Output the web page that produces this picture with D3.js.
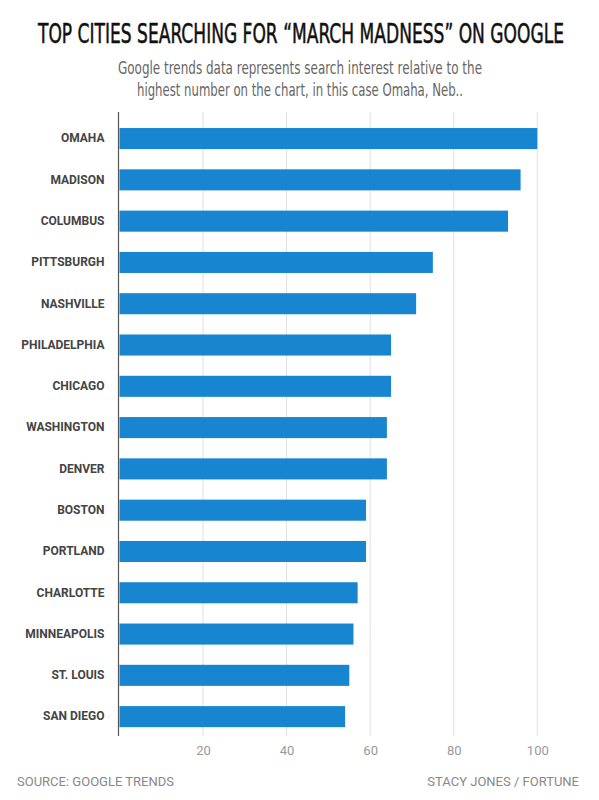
<!DOCTYPE html>
<meta charset="utf-8">
<script src="https://d3js.org/d3.v7.min.js"></script>
<style>
  body { margin: 0; background: #fff; }
  text { font-family: "Liberation Sans Narrow", "DejaVu Sans Condensed", sans-serif; }
</style>
<body>
<div id="chart"></div>
<script>

var cities = ["OMAHA", "MADISON", "COLUMBUS", "PITTSBURGH", "NASHVILLE", "PHILADELPHIA", "CHICAGO",
  "WASHINGTON", "DENVER", "BOSTON", "PORTLAND", "CHARLOTTE", "MINNEAPOLIS", "ST. LOUIS", "SAN DIEGO"];
var interest = [100, 96, 93, 75, 71, 65, 65, 64, 64, 59, 59, 57, 56, 55, 54];
var ticks = [20, 40, 60, 80, 100];

var width = 599, height = 800;
var plotTop = 112, plotBottom = 736;

var svg = d3.select("#chart")
  .append("svg")
    .attr("width", width)
    .attr("height", height);

var data = cities.map(function(c, i) { return { city: c, value: interest[i] }; });

var x = d3.scaleLinear()
  .domain([0, 100])
  .range([119.5, 537.3]);

var y = d3.scaleBand()
  .domain(cities)
  .range([107.8, 747.4])
  .paddingInner(0.49)
  .paddingOuter(0.49);

// gridlines
svg.append("g")
  .selectAll("line")
  .data(ticks)
  .enter()
  .append("line")
    .attr("x1", function(d) { return x(d); })
    .attr("x2", function(d) { return x(d); })
    .attr("y1", plotTop)
    .attr("y2", plotBottom)
    .attr("stroke", "#e0e0e0")
    .attr("stroke-width", 1);

// x axis labels
var xAxis = svg.append("g")
  .attr("transform", "translate(0," + plotBottom + ")")
  .call(d3.axisBottom(x).tickValues(ticks).tickSize(0).tickPadding(10));
xAxis.select(".domain").remove();
xAxis.selectAll("text")
  .attr("fill", "#999")
  .style("font-family", "Roboto, sans-serif")
  .style("font-size", "13px");

// bars
svg.append("g")
  .selectAll("rect")
  .data(data)
  .enter()
  .append("rect")
    .attr("x", x(0))
    .attr("y", function(d) { return y(d.city); })
    .attr("width", function(d) { return x(d.value) - x(0); })
    .attr("height", y.bandwidth())
    .attr("fill", "#1785d0");

// y axis
var yAxis = svg.append("g")
  .attr("transform", "translate(118.5,0)")
  .call(d3.axisLeft(y).tickSize(0).tickPadding(14));
yAxis.select(".domain").remove();
yAxis.selectAll("text")
  .attr("fill", "#444")
  .style("font-family", "Roboto, sans-serif")
  .style("font-weight", "bold")
  .style("font-size", "12px");

svg.append("line")
  .attr("x1", 118.5).attr("x2", 118.5)
  .attr("y1", plotTop).attr("y2", plotBottom)
  .attr("stroke", "#555")
  .attr("stroke-width", 1.2);

// title
svg.append("text")
  .attr("x", 301)
  .attr("y", 43)
  .attr("text-anchor", "middle")
  .attr("textLength", 526)
  .attr("lengthAdjust", "spacingAndGlyphs")
  .attr("fill", "#111")
  .attr("stroke", "#111")
  .attr("stroke-width", 0.5)
  .style("font-size", "27px")
  .text("TOP CITIES SEARCHING FOR \u201CMARCH MADNESS\u201D ON GOOGLE");

var subtitle = [
  "Google trends data represents search interest relative to the",
  "highest number on the chart, in this case Omaha, Neb.."
];
var subWidths = [364, 326];
svg.append("g")
  .selectAll("text")
  .data(subtitle)
  .enter()
  .append("text")
    .attr("x", 300)
    .attr("y", function(d, i) { return 74 + i * 22; })
    .attr("text-anchor", "middle")
    .attr("textLength", function(d, i) { return subWidths[i]; })
    .attr("lengthAdjust", "spacingAndGlyphs")
    .attr("fill", "#666")
    .style("font-size", "17px")
    .text(function(d) { return d; });

// footer
svg.append("text")
  .attr("x", 17)
  .attr("y", 786)
  .attr("fill", "#888")
  .style("font-family", "Roboto, sans-serif")
  .style("font-size", "13px")
  .text("SOURCE: GOOGLE TRENDS");

svg.append("text")
  .attr("x", 579)
  .attr("y", 786)
  .attr("text-anchor", "end")
  .attr("fill", "#888")
  .style("font-family", "Roboto, sans-serif")
  .style("font-size", "13px")
  .text("STACY JONES / FORTUNE");

</script>
</body>
